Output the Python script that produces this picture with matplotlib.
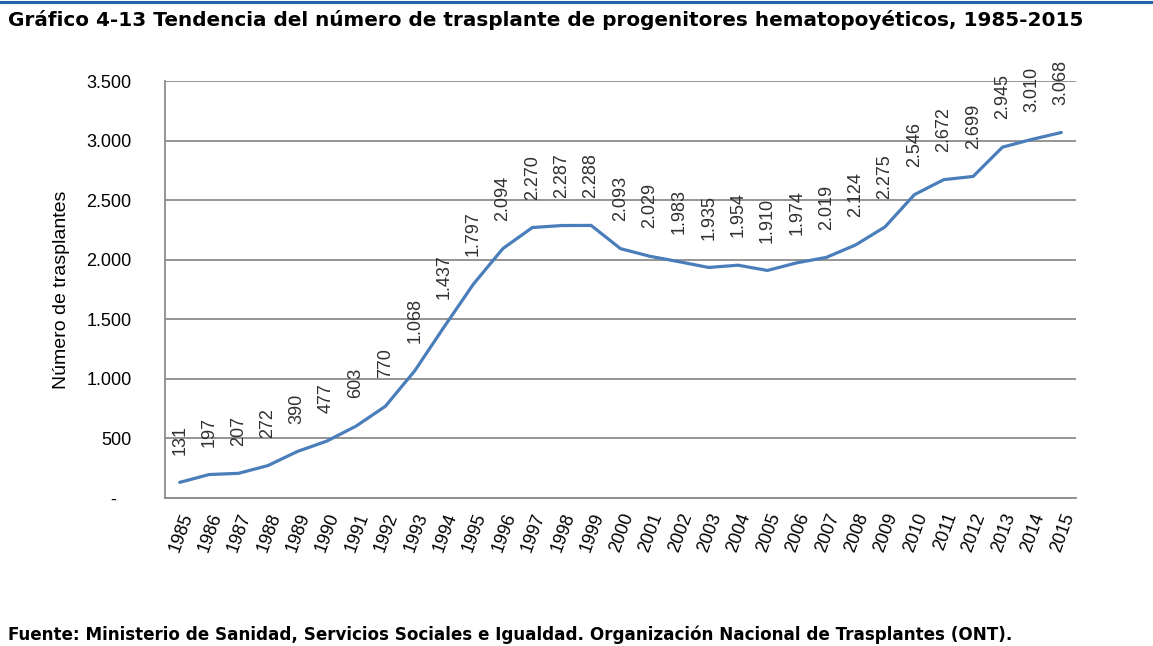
import matplotlib.pyplot as plt
from matplotlib.lines import Line2D

years = [str(y) for y in range(1985, 2016)]
trasplantes = [131, 197, 207, 272, 390, 477, 603, 770, 1068, 1437, 1797, 2094, 2270, 2287, 2288,
               2093, 2029, 1983, 1935, 1954, 1910, 1974, 2019, 2124, 2275, 2546, 2672, 2699, 2945,
               3010, 3068]
y_ticks = [0, 500, 1000, 1500, 2000, 2500, 3000, 3500]
y_labels = ['-   ', '500', '1.000', '1.500', '2.000', '2.500', '3.000', '3.500']

plt.rcParams['font.family'] = ['Liberation Sans', 'DejaVu Sans']


def fmt(v):
    return f"{v:,}".replace(",", ".")


fig = plt.figure(figsize=(11.53, 6.46), dpi=100)
ax = fig.add_axes([0.1431, 0.2291, 0.7901, 0.6455])

x = list(range(len(years)))
ax.plot(x, trasplantes, color='#4a7ebb', linewidth=2.3, solid_capstyle='round')

for xi, v in zip(x, trasplantes):
    ax.annotate(fmt(v), (xi, v), xytext=(0, 20), textcoords='offset points',
                rotation=90, ha='center', va='bottom', fontsize=13, color='#303030')

ax.set_xlim(-0.5, len(years) - 0.5)
ax.set_ylim(0, 3500)
ax.set_yticks(y_ticks)
ax.set_yticklabels(y_labels, fontsize=13)
ax.set_xticks(x)
ax.set_xticklabels(years, rotation=70, ha='right', va='top', rotation_mode='anchor', fontsize=13)
ax.tick_params(axis='x', length=0, pad=9)
ax.tick_params(axis='y', length=0, pad=24)
ax.grid(axis='y', color='#8c8c8c', linewidth=1.3)
ax.set_axisbelow(True)
for s in ['top', 'right']:
    ax.spines[s].set_visible(False)
for s in ['left', 'bottom']:
    ax.spines[s].set_color('#8c8c8c')
    ax.spines[s].set_linewidth(1.3)
ax.set_ylabel('Número de trasplantes', fontsize=14, labelpad=12)

fig.add_artist(Line2D([0, 1], [0.9965, 0.9965], color='#1f64a6', linewidth=2.2,
                      transform=fig.transFigure))
fig.text(0.007, 0.969, 'Gráfico 4-13 Tendencia del número de trasplante de progenitores hematopoyéticos, 1985-2015',
         fontsize=14.4, fontweight='heavy', family='DejaVu Sans', ha='left', va='center')
fig.text(0.007, 0.018, 'Fuente: Ministerio de Sanidad, Servicios Sociales e Igualdad. Organización Nacional de Trasplantes (ONT).',
         fontsize=12.1, fontweight='bold', family='DejaVu Sans', ha='left', va='center')

fig.savefig('out.png', dpi=100)
